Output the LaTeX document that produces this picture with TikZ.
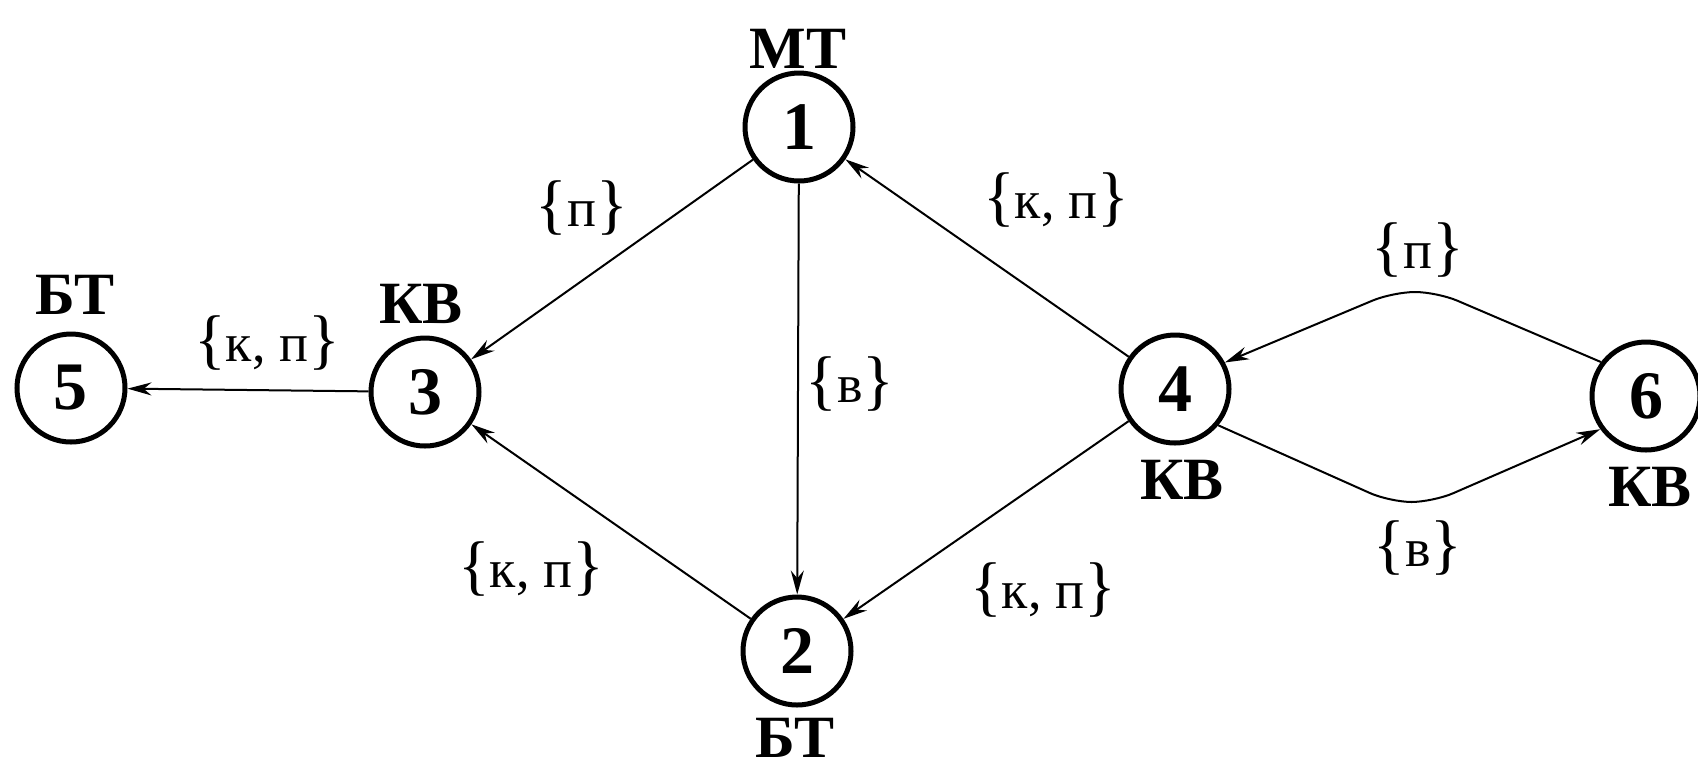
\documentclass[tikz,border=0pt]{standalone}
\usepackage{fontspec}
\setmainfont{Liberation Serif}
\usetikzlibrary{arrows.meta}
\newcommand{\LBr}{{\fontsize{33}{33}\selectfont\{}}
\newcommand{\RBr}{{\fontsize{33}{33}\selectfont\}}}
\begin{document}
\begin{tikzpicture}[x=0.5pt,y=-0.5pt,
  vertex/.style={circle,draw,line width=2.5pt,minimum size=54pt,inner sep=0pt,font=\fontsize{34}{34}\selectfont\bfseries},
  tag/.style={font=\fontsize{30}{30}\selectfont\bfseries,inner sep=0pt},
  elab/.style={font=\fontsize{27}{27}\selectfont,inner sep=0pt},
  edge/.style={line width=1pt,-{Stealth[length=12pt,width=6.5pt]}}]
\useasboundingbox[fill=white] (0,0) rectangle (1698,768);
% vertices
\node[vertex] (n1) at (799,127) {1};
\node[vertex] (n2) at (797,651) {2};
\node[vertex] (n3) at (425,392) {3};
\node[vertex] (n4) at (1175,389) {4};
\node[vertex] (n5) at (71,388) {5};
\node[vertex] (n6) at (1646,396) {6};
% vertex tags
\node[tag] (t1) at (798,49) {МТ};
\node[tag] (t2) at (795,738) {БТ};
\node[tag] (t3) at (421,304) {КВ};
\node[tag] (t4) at (1182,480) {КВ};
\node[tag] (t5) at (75,295) {БТ};
\node[tag] (t6) at (1650,487) {КВ};
% edges
\draw[edge] (n1) -- (n3);
\draw[edge] (n1) -- (n2);
\draw[edge] (n4) -- (n1);
\draw[edge] (n4) -- (n2);
\draw[edge] (n2) -- (n3);
\draw[edge] (n3) -- (n5);
\coordinate (c1) at (1437,292);
\coordinate (c2) at (1393,292);
\coordinate (c3) at (1390,502);
\coordinate (c4) at (1433,502);
\draw[edge,rounded corners=11pt] (n6.143) -- (c1) -- (c2) -- (n4.28);
\draw[edge,rounded corners=11pt] (n4.-40) -- (c3) -- (c4) -- (n6.216);
% edge labels
\node[elab] (l13) at (582,208) {\LBr п\RBr};
\node[elab] (l35) at (267,343) {\LBr к, п\RBr};
\node[elab] (l12) at (850,384) {\LBr в\RBr};
\node[elab] (l41) at (1056,200) {\LBr к, п\RBr};
\node[elab] (l23) at (531,569) {\LBr к, п\RBr};
\node[elab] (l42) at (1043,590) {\LBr к, п\RBr};
\node[elab] (l64) at (1418,250) {\LBr п\RBr};
\node[elab] (l46) at (1418,548) {\LBr в\RBr};
\end{tikzpicture}
\end{document}
